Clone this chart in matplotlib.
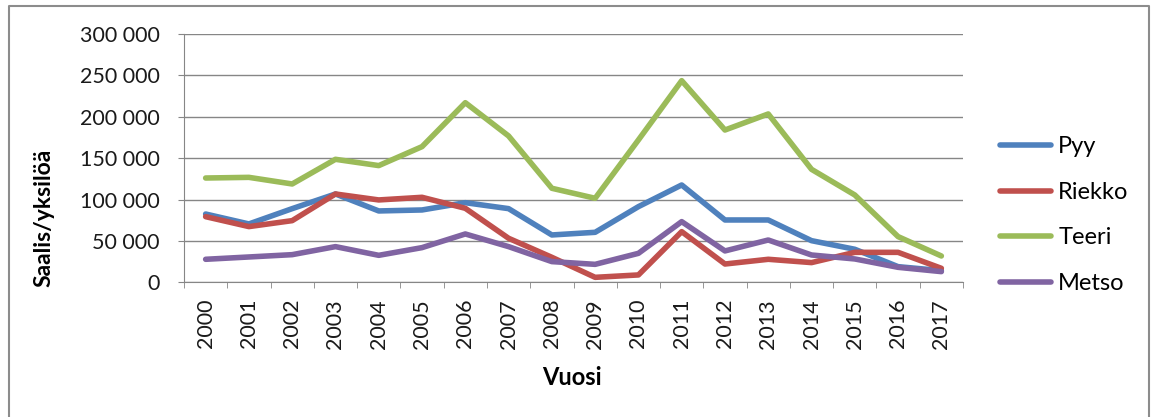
import matplotlib.pyplot as plt
from matplotlib.lines import Line2D
from matplotlib.ticker import FuncFormatter, MultipleLocator

plt.rcParams['font.family'] = ['Lato', 'DejaVu Sans']

years = [str(y) for y in range(2000, 2018)]
pyy = [82500, 70500, 89000, 106700, 86200, 87400, 96200, 89000, 57200, 60400,
       91400, 117600, 75300, 75300, 50300, 39900, 18900, 14100]
riekko = [79300, 67300, 74500, 106700, 99500, 102700, 89400, 53200, 30200, 6000,
          8900, 61200, 22100, 27800, 23800, 36200, 36200, 16900]
teeri = [126000, 126800, 118800, 148600, 141000, 163900, 217000, 176800, 113600, 101500,
         172000, 243600, 184000, 203400, 136500, 105500, 55200, 31800]
metso = [27800, 30600, 33400, 43100, 32600, 41900, 58400, 43100, 25000, 21700,
         35000, 73300, 37900, 51100, 33000, 28200, 18100, 12900]

series = [("Pyy", pyy, "#4F81BD"), ("Riekko", riekko, "#C0504D"),
          ("Teeri", teeri, "#9BBB59"), ("Metso", metso, "#8064A2")]

fig = plt.figure(figsize=(11.55, 4.17), dpi=100)
ax = fig.add_axes([184 / 1155, 1 - 282.3 / 417, (963 - 184) / 1155, (282.3 - 34) / 417])

x = list(range(len(years)))
for name, vals, col in series:
    ax.plot(x, vals, color=col, lw=4, label=name, solid_capstyle='round', solid_joinstyle='round')

ax.set_xlim(-0.5, len(years) - 0.5)
ax.set_ylim(0, 300000)
ax.yaxis.set_major_locator(MultipleLocator(50000))
ax.yaxis.set_major_formatter(FuncFormatter(lambda v, p: f"{int(v):,}".replace(",", " ")))
ax.set_xticks(x)
ax.set_xticklabels(years, rotation=90, fontsize=15.5, color="#1a1a1a")
ax.set_xticks([i - 0.5 for i in range(len(years) + 1)], minor=True)
ax.tick_params(axis='x', which='major', length=0, pad=12)
ax.tick_params(axis='x', which='minor', length=4.3, color="#868686")
ax.tick_params(axis='y', length=4.3, color="#868686", labelsize=15.5, labelcolor="#1a1a1a", pad=13)

ax.grid(axis='y', color="#868686", lw=1)
ax.set_axisbelow(True)
for s in ['top', 'right']:
    ax.spines[s].set_visible(False)
for s in ['left', 'bottom']:
    ax.spines[s].set_color("#868686")

ax.set_ylabel("Saalis/yksilöä", fontsize=16.5, fontweight='bold')
ax.yaxis.set_label_coords(-0.166, 0.26)
ax.set_xlabel("Vuosi", fontsize=17, fontweight='bold')
ax.xaxis.set_label_coords(0.498, -0.339)

fig.legend(loc='upper left', bbox_to_anchor=(979 / 1155, 1 - 115 / 417), frameon=False,
           fontsize=17, handlelength=2.16, handletextpad=0.3, labelspacing=1.04)

# outer chart border
fig.add_artist(Line2D([9 / 1155, 9 / 1155, 1149 / 1155, 1149 / 1155],
                      [-0.01, 1 - 6 / 417, 1 - 6 / 417, -0.01],
                      transform=fig.transFigure, color="#8c8c8c", lw=1.5))

fig.savefig("out.png", dpi=100)
